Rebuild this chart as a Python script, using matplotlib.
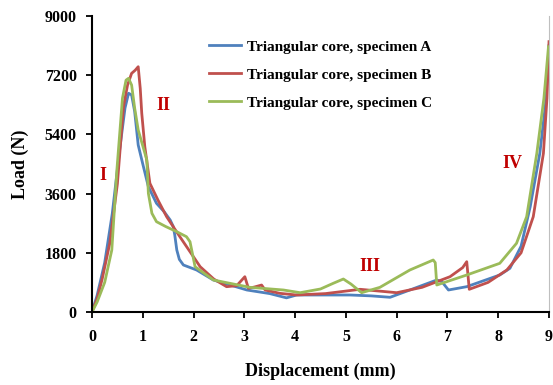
import matplotlib
matplotlib.use("Agg")
import matplotlib.pyplot as plt

# Specimen A (blue)
xa = [0, 0.1, 0.25, 0.4, 0.55, 0.65, 0.72, 0.78, 0.84, 0.91, 1.0, 1.11, 1.27, 1.42, 1.54, 1.6, 1.63, 1.67, 1.72, 1.8, 2.06,
      2.39, 3.05, 3.5, 3.83, 4.03, 5.08, 5.5, 5.87, 6.26, 6.79, 6.89, 7.02, 7.38, 8.03, 8.23, 8.45, 8.63, 8.82, 8.93, 9.0]
ya = [0, 500, 1500, 3000, 5000, 6200, 6650, 6600, 6100, 5077, 4500, 3810, 3305, 3050, 2797, 2600, 2341, 1885, 1600, 1429, 1277,
      973, 669, 560, 430, 517, 517, 490, 447, 669, 973, 921, 669, 770, 1125, 1328, 2000, 3201, 4834, 6300, 8100]

# Specimen B (red)
xb = [0, 0.1, 0.2, 0.35, 0.5, 0.62, 0.7, 0.78, 0.85, 0.91, 0.95, 0.98, 1.04, 1.14, 1.3, 1.47, 1.73, 2.13, 2.4, 2.65, 2.85, 3.01,
      3.08, 3.2, 3.34, 3.41, 3.7, 4.03, 4.6, 5.28, 6.0, 6.5, 7.05, 7.3, 7.38, 7.43, 7.8, 8.17, 8.45, 8.69, 8.89, 8.96, 9.0]
yb = [0, 400, 1000, 2088, 3900, 6242, 6900, 7256, 7350, 7458, 6800, 6040, 5026, 3913, 3400, 2897, 2290, 1377, 1000, 770, 800, 1073,
      720, 760, 820, 669, 567, 517, 560, 690, 587, 750, 1073, 1350, 1530, 690, 900, 1277, 1800, 2898, 4824, 6500, 8220]

# Specimen C (green)
xc = [0, 0.1, 0.25, 0.39, 0.49, 0.6, 0.67, 0.72, 0.78, 0.84, 0.91, 1.08, 1.11, 1.18, 1.27, 1.45, 1.67, 1.86, 1.93, 2.03, 2.39,
      3.11, 3.77, 4.1, 4.5, 4.75, 4.95, 5.1, 5.31, 5.67, 6.26, 6.72, 6.76, 6.79, 7.38, 8.03, 8.36, 8.56, 8.76, 8.9, 8.99]
yc = [0, 300, 900, 1885, 4317, 6500, 7050, 7105, 6900, 6200, 5534, 4621, 3608, 3000, 2746, 2600, 2441, 2290, 2137, 1377, 973,
      750, 669, 587, 700, 872, 1003, 850, 587, 750, 1277, 1581, 1500, 821, 1125, 1480, 2088, 2898, 4824, 6500, 8067]

labels = ["Triangular core, specimen A", "Triangular core, specimen B", "Triangular core, specimen C"]
colors = ["#4F81BD", "#C0504D", "#9BBB59"]
regions = ["I", "II", "III", "IV"]
region_x = [0.22, 1.40, 5.47, 8.27]
region_y = [4160, 6290, 1370, 4530]
xticks = list(range(0, 10))
yticks = [0, 1800, 3600, 5400, 7200, 9000]

plt.rcParams['font.family'] = ['Liberation Serif', 'DejaVu Serif']
fig = plt.figure(figsize=(5.53, 3.85), dpi=100)
ax = fig.add_axes([92/553, 73/385, 457/553, 296/385])

for x, y, c, l in zip([xa, xb, xc], [ya, yb, yc], colors, labels):
    ax.plot(x, y, color=c, lw=2.0, label=l, solid_joinstyle='round')

ax.set_xlim(0, 9)
ax.set_ylim(0, 9000)
ax.set_xticks(xticks)
ax.set_yticks(yticks)
ax.tick_params(direction='out', length=4, width=1.3, labelsize=11.5)
ax.tick_params(axis='x', pad=8)
ax.tick_params(axis='y', pad=7)
for t in ax.get_xticklabels() + ax.get_yticklabels():
    t.set_fontweight('bold')
ax.spines['top'].set_visible(False)
ax.spines['right'].set_color('#BFBFBF')
ax.spines['left'].set_linewidth(1.5)
ax.spines['bottom'].set_linewidth(1.5)

ax.set_xlabel("Displacement (mm)", fontsize=13, fontweight='bold', labelpad=13)
ax.set_ylabel("Load (N)", fontsize=13, fontweight='bold', labelpad=11)

for r, x, y in zip(regions, region_x, region_y):
    ax.text(x, y, r, color='#C00000', fontsize=13, fontweight='bold', ha='center', va='center')

leg = ax.legend(loc='upper left', bbox_to_anchor=(0.225, 0.965), frameon=False,
                prop={'weight': 'bold', 'size': 11}, handlelength=2.1, labelspacing=0.93, handletextpad=0.4)

fig.savefig("out.png", dpi=100)
